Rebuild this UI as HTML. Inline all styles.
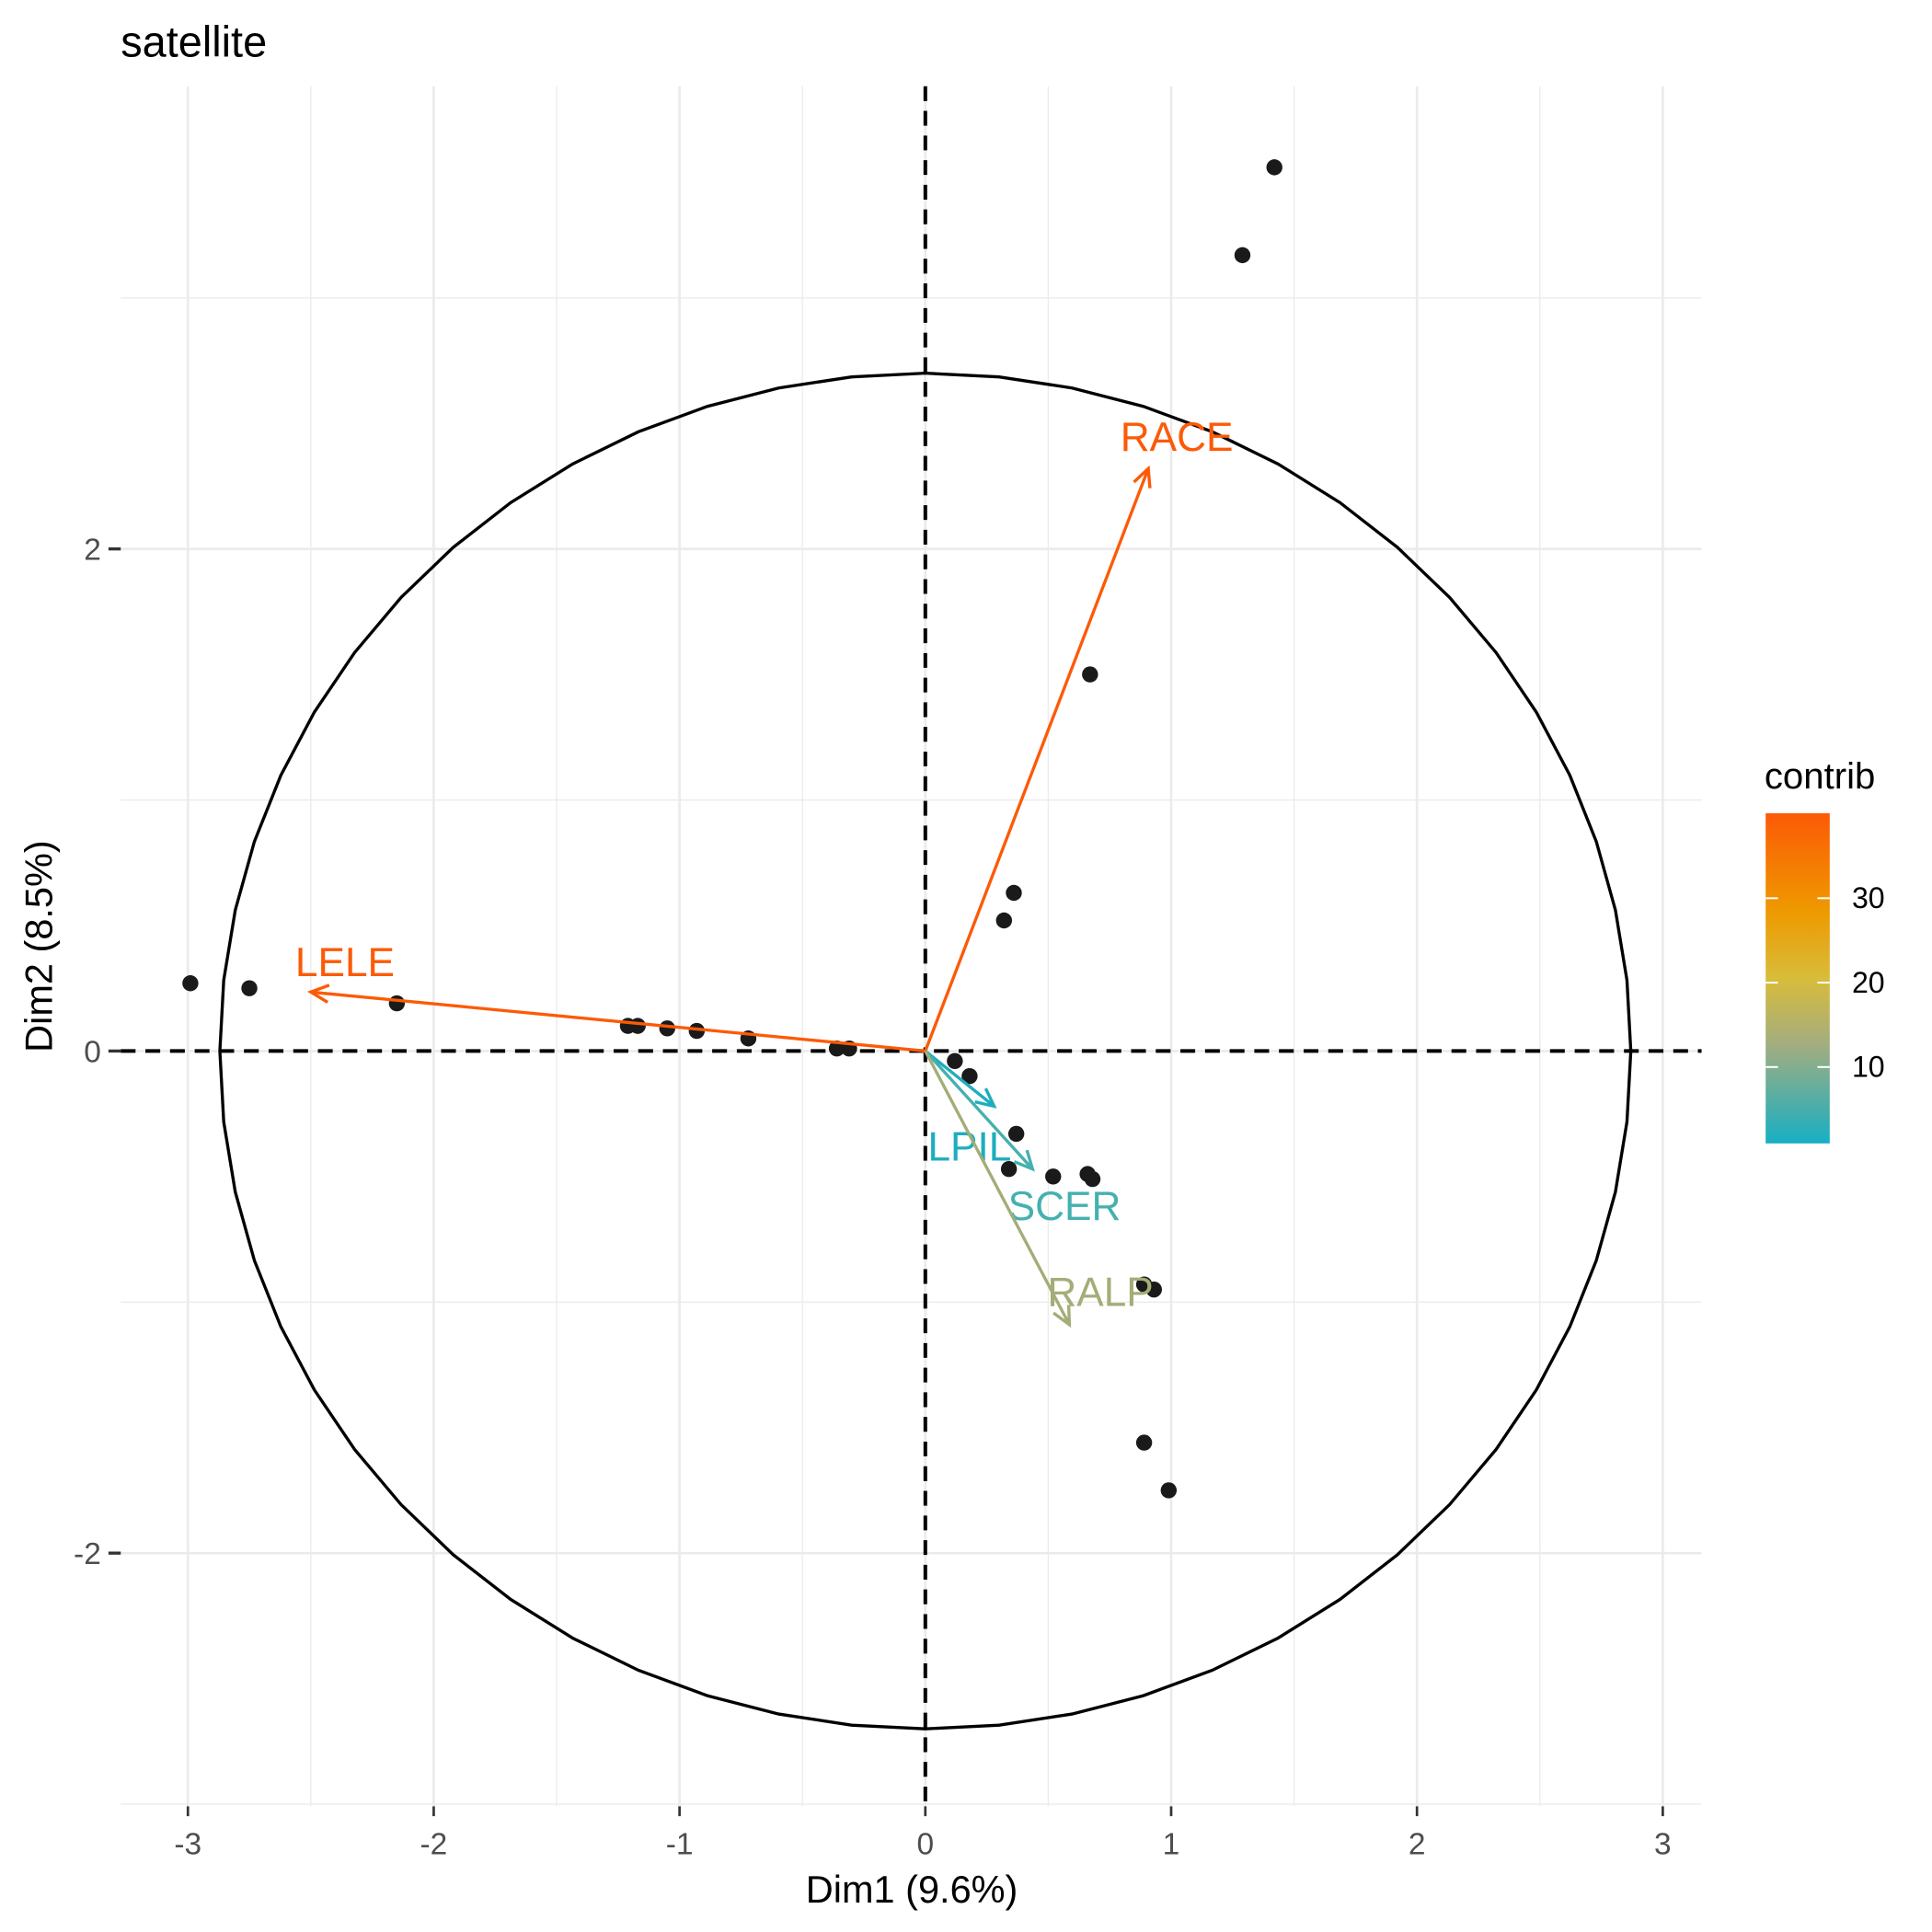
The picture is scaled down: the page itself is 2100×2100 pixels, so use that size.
<!DOCTYPE html>
<html><head><meta charset="utf-8"><style>
html,body{margin:0;padding:0;background:#fff}
svg{display:block}
text{font-family:"Liberation Sans",Arial,sans-serif}
</style></head><body>
<svg id="chart" width="2100" height="2100" viewBox="0 0 1568 1568" xmlns="http://www.w3.org/2000/svg">
<rect width="1568" height="1568" fill="#fff"/>
<text x="98" y="46" font-size="35" fill="#000">satellite</text>
<g id="grid"></g>
<g id="circle"></g>
<g id="axes0"></g>
<g id="pts"></g>
<g id="arrows"></g>
<g id="ticks"></g>
<text x="740" y="1544" font-size="31" text-anchor="middle" fill="#000">Dim1 (9.6%)</text>
<text transform="translate(42,768) rotate(-90)" font-size="31" text-anchor="middle" fill="#000">Dim2 (8.5%)</text>
<g>
<defs><linearGradient id="grad" x1="0" y1="1" x2="0" y2="0">
<stop offset="0" stop-color="#17AFC3"/>
<stop offset="0.3" stop-color="#A3AD7F"/>
<stop offset="0.5" stop-color="#D8BC3A"/>
<stop offset="0.7" stop-color="#EE9A00"/>
<stop offset="1" stop-color="#FC5A06"/>
</linearGradient></defs>
<text x="1432" y="640" font-size="30" fill="#000">contrib</text>
<rect x="1433" y="660" width="52" height="268" fill="url(#grad)"/>
<g id="leg"></g>
</g>
</svg>
<script>
const ptsX=[-2.99,-2.75,-2.15,-1.21,-1.17,-1.05,-0.93,-0.72,-0.36,-0.31,0.12,0.18,0.37,0.34,0.52,0.66,0.68,0.89,0.93,0.89,0.99,0.32,0.36,0.67,1.29,1.42];
const ptsY=[0.27,0.25,0.19,0.10,0.10,0.09,0.08,0.05,0.01,0.01,-0.04,-0.10,-0.33,-0.47,-0.50,-0.49,-0.51,-0.93,-0.95,-1.56,-1.75,0.52,0.63,1.50,3.17,3.52];
const varNames=["RACE","LELE","LPIL","SCER","RALP"];
const varX=[0.907,-2.50,0.28,0.436,0.586];
const varY=[2.32,0.235,-0.22,-0.47,-1.09];
const varColors=["#FC5A06","#FC5A06","#1DADBE","#45B0B0","#A3AD78"];
const labelX=[1.023,-2.361,0.180,0.566,0.712];
const labelY=[2.449,0.358,-0.378,-0.613,-0.957];
const xTicks=[-3,-2,-1,0,1,2,3];
const yTicks=[-2,0,2];
const legTicks=[10,20,30];
const circleRX=2.87, circleRY=2.70;

const NS="http://www.w3.org/2000/svg";
const X=v=>751+v*199.5, Y=v=>853-v*203.75;
function mk(tag,attrs,parent){const e=document.createElementNS(NS,tag);for(const k in attrs)e.setAttribute(k,attrs[k]);parent.appendChild(e);return e;}
const grid=document.getElementById('grid');
for(let v=-3;v<=3.01;v+=0.5){const l=mk('line',{x1:X(v),x2:X(v),y1:70,y2:1466,stroke:'#ebebeb','stroke-width':Number.isInteger(v)?2:1},grid);

}
for(let v=-3;v<=3;v++){const l=mk('line',{x1:98,x2:1381,y1:Y(v),y2:Y(v),stroke:'#ebebeb','stroke-width':v%2===0?2:1},grid);

}
let pp=[];for(let i=0;i<=60;i++){const a=i/60*2*Math.PI;pp.push(X(circleRX*Math.cos(a))+','+Y(circleRY*Math.sin(a)));}
const c=mk('polyline',{points:pp.join(' '),fill:'none',stroke:'#000','stroke-width':2.5},document.getElementById('circle'));


const ax=document.getElementById('axes0');
let h=mk('line',{x1:98,x2:1381,y1:Y(0),y2:Y(0),stroke:'#000','stroke-width':3,'stroke-dasharray':'12,8'},ax);


let vl=mk('line',{x1:X(0),x2:X(0),y1:70,y2:1466,stroke:'#000','stroke-width':3,'stroke-dasharray':'12,8'},ax);


const pg=document.getElementById('pts');
ptsX.forEach((x,i)=>{const p=mk('circle',{cx:X(x),cy:Y(ptsY[i]),r:6.5,fill:'#1a1a1a'},pg);

});
const ag=document.getElementById('arrows');
varNames.forEach((n,i)=>{const g=mk('g',{},ag);


const x1=X(0),y1=Y(0),x2=X(varX[i]),y2=Y(varY[i]);
mk('line',{x1,y1,x2,y2,stroke:varColors[i],'stroke-width':2.5},g);
const a=Math.atan2(y2-y1,x2-x1),s=16,w=0.45;
mk('polyline',{points:`${x2-s*Math.cos(a-w)},${y2-s*Math.sin(a-w)} ${x2},${y2} ${x2-s*Math.cos(a+w)},${y2-s*Math.sin(a+w)}`,fill:'none',stroke:varColors[i],'stroke-width':2.5},g);
const t=mk('text',{x:X(labelX[i]),y:Y(labelY[i])+12,'font-size':33,fill:varColors[i],'text-anchor':'middle'},g);
t.textContent=n;

});
const tg=document.getElementById('ticks');
xTicks.forEach(v=>{mk('line',{x1:X(v),x2:X(v),y1:1466,y2:1474,stroke:'#333','stroke-width':2},tg);
const t=mk('text',{x:X(v),y:1505,'font-size':25,fill:'#4d4d4d','text-anchor':'middle'},tg);t.textContent=v;

});
yTicks.forEach(v=>{mk('line',{x1:88,x2:98,y1:Y(v),y2:Y(v),stroke:'#333','stroke-width':2.5},tg);
const t=mk('text',{x:82,y:Y(v)+9,'font-size':25,fill:'#4d4d4d','text-anchor':'end'},tg);t.textContent=v;

});
const lg=document.getElementById('leg');
legTicks.forEach(v=>{const y=866-(v-10)*6.85;
mk('line',{x1:1433,x2:1443,y1:y,y2:y,stroke:'#fff','stroke-width':1.5},lg);
mk('line',{x1:1475,x2:1485,y1:y,y2:y,stroke:'#fff','stroke-width':1.5},lg);
const t=mk('text',{x:1503,y:y+8,'font-size':24,fill:'#000'},lg);t.textContent=v;

});
</script>
</body></html>
